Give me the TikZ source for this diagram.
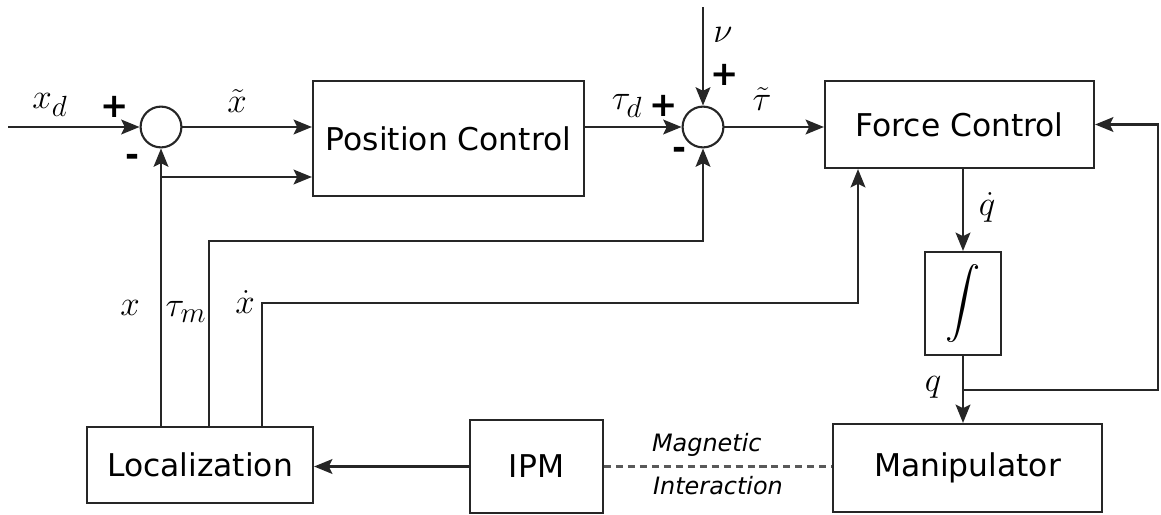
\documentclass[tikz,border=0pt]{standalone}
\usepackage{amsmath,amssymb}
\usepackage{fontspec}
\setsansfont{DejaVu Sans}
\usepackage{tikz}
\usetikzlibrary{arrows.meta,positioning,calc}

\begin{document}
\begin{tikzpicture}[
			x=0.025cm,y=-0.025cm,
			blk/.style={draw=black!85,line width=1.5pt,inner sep=0pt,align=center,font=\sffamily\fontsize{22.3}{26}\selectfont},
			sumc/.style={draw=black!85,line width=1.5pt,circle,inner sep=0pt,minimum size=1.02cm},
			arr/.style={-{Stealth[length=13pt,width=10.5pt,inset=2.5pt]},line width=1.5pt,black!85},
			lbl/.style={inner sep=0pt,font=\fontsize{30}{34}\selectfont},
			sgn/.style={inner sep=0pt,font=\sffamily\bfseries\fontsize{24}{28}\selectfont},
			note/.style={inner sep=0pt,font=\sffamily\itshape\fontsize{17}{20}\selectfont}
			]
			\useasboundingbox (0,0) rectangle (1161,514);
			% blocks
			\node[sumc] (sum1) at (161,127) {};
			\node[sumc] (sum2) at (703,127) {};
			\node[blk,minimum width=6.775cm,minimum height=2.875cm] (pos) at (448.5,138.5) {Position Control};
			\node[blk,minimum width=6.725cm,minimum height=2.175cm] (force) at (959.5,124.5) {Force Control};
			\node[blk,minimum width=1.9cm,minimum height=2.575cm,font=\fontsize{25}{29}\selectfont] (intg) at (963,303.5) {$\displaystyle\int$};
			\node[blk,minimum width=6.725cm,minimum height=2.2cm] (manip) at (967.5,468) {Manipulator};
			\node[blk,minimum width=3.325cm,minimum height=2.325cm] (ipm) at (536.5,466.5) {IPM};
			\node[blk,minimum width=5.65cm,minimum height=1.9cm] (loc) at (200,465) {Localization};
			% free ends and bends
			\coordinate (in) at (8,127);
			\coordinate (nu) at (703,7);
			\coordinate (br) at (161,177);
			\coordinate (tm) at (209,241);
			\coordinate (xd) at (262,303);
			\coordinate (xf) at (858,303);
			\coordinate (qb) at (963,390);
			\coordinate (qr) at (1158,390);
			% forward path
			\draw[arr] (in) -- (sum1);
			\draw[arr] (sum1) -- (sum1 -| pos.west);
			\draw[arr] (pos.east |- sum2) -- (sum2);
			\draw[arr] (nu) -- (sum2);
			\draw[arr] (sum2) -- (sum2 -| force.west);
			\draw[arr] (intg.north |- force.south) -- (intg.north);
			\draw[arr] (intg.south) -- (intg.south |- manip.north);
			\draw[arr] (qb) -- (qr) -- (qr |- force.east) -- (force.east);
			% feedback from localization
			\draw[arr] (sum1 |- loc.north) -- (sum1);
			\draw[arr] (br) -- (br -| pos.west);
			\draw[arr] (tm |- loc.north) -- (tm) -- (tm -| sum2) -- (sum2);
			\draw[arr] (xd |- loc.north) -- (xd) -- (xf) -- (xf |- force.south);
			\draw[arr] (ipm.west) -- (ipm.west -| loc.east);
			\draw[line width=1.5pt,dash pattern=on 5pt off 3.5pt,black!65] (ipm.east) -- (ipm.east -| manip.west)
				node[note,midway,black,yshift=0.53cm,xshift=-0.28cm] {Magnetic}
				node[note,midway,black,yshift=-0.47cm] {Interaction};
			% labels
			\node[lbl] (lxd) at (50,105) {$x_d$};
			\node[sgn] (p1) at (115,107) {+};
			\node[sgn] (m1) at (133,160) {-};
			\node[lbl] (lxt) at (237,101) {$\tilde{x}$};
			\node[lbl] (ltd) at (627,106) {$\tau_d$};
			\node[sgn] (p2) at (664,106) {+};
			\node[lbl] (lnu) at (723,35) {$\nu$};
			\node[sgn] (p3) at (725,75) {+};
			\node[sgn] (m2) at (679,153) {-};
			\node[lbl] (ltt) at (762,99) {$\tilde{\tau}$};
			\node[lbl] (lqd) at (987,207) {$\dot{q}$};
			\node[lbl] (lq) at (933,387) {$q$};
			\node[lbl] (lx) at (130,308) {$x$};
			\node[lbl] (ltm) at (186,312) {$\tau_m$};
			\node[lbl] (lxdot) at (245,302) {$\dot{x}$};
		\end{tikzpicture}
\end{document}
